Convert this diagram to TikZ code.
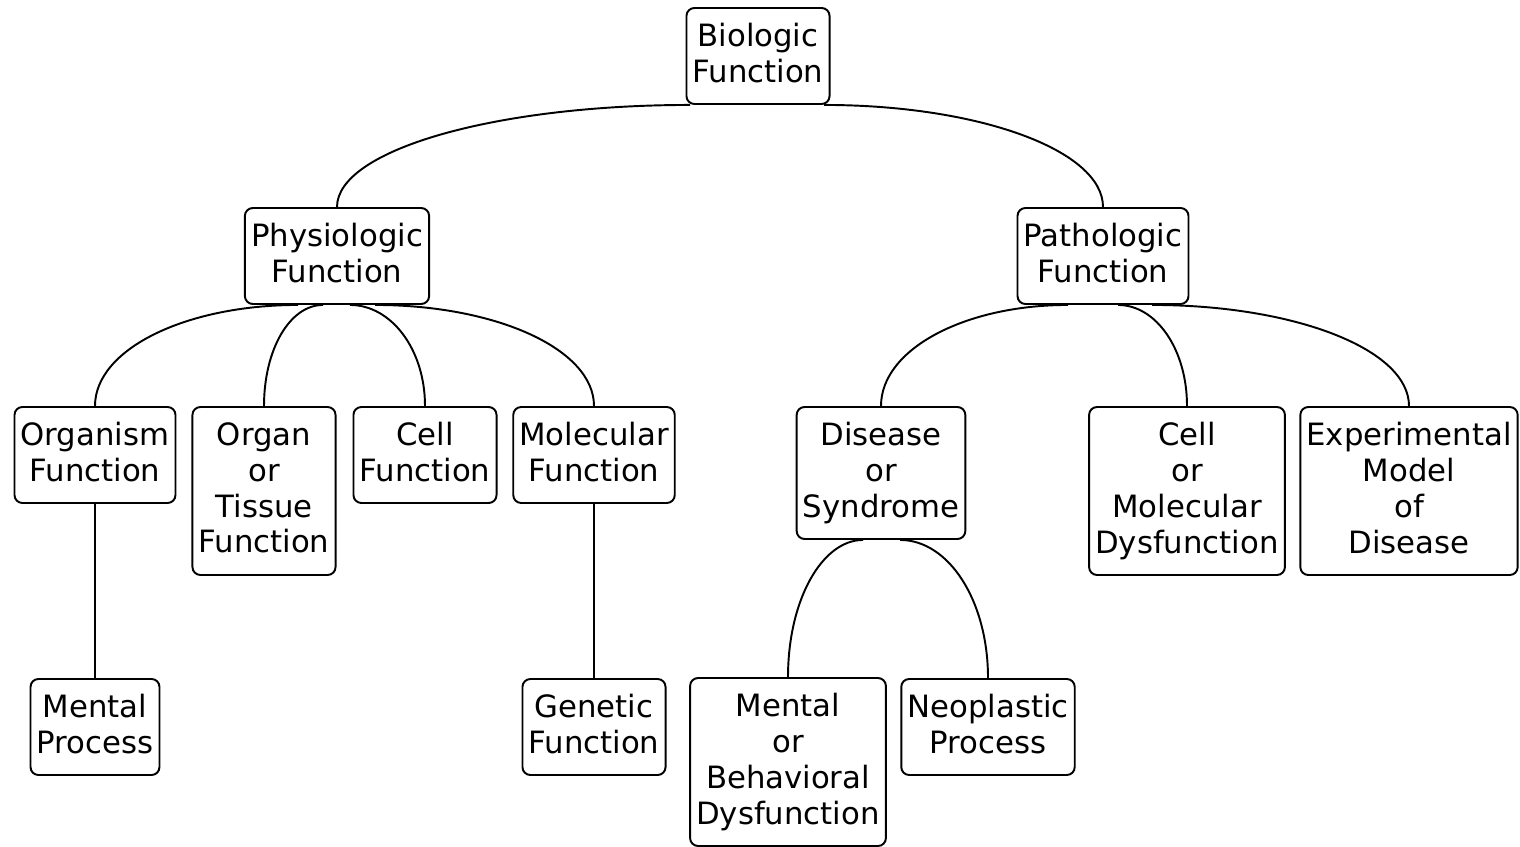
\documentclass[tikz,border=0pt]{standalone}
\usepackage{fontspec}
\setmainfont{DejaVu Sans}
\usepackage{tikz}

\tikzset{
  box/.style={draw, line width=1.1pt, rounded corners=4.5pt, align=center,
    inner xsep=3.5pt, inner ysep=0pt, font=\fontsize{17.5pt}{20.4pt}\selectfont,
    execute at end node={\vphantom{y}},
    minimum height={#1*0.72cm+0.48cm}},
  box/.default=2,
  link/.style={line width=1.1pt}
}

\begin{document}
\begin{tikzpicture}[x=0.02cm, y=-0.02cm]
    \useasboundingbox (0,0) rectangle (1520,847);

    % Top level
    \node[box] (bio) at (758,56) {Biologic\\Function};

    % Second level
    \node[box] (phys) at (337,256) {Physiologic\\Function};
    \node[box] (path) at (1103,256) {Pathologic\\Function};

    % Third level
    \node[box] (org) at (95,455) {Organism\\Function};
    \node[box=4] (organ) at (264,491) {Organ\\or\\Tissue\\Function};
    \node[box] (cell) at (425,455) {Cell\\Function};
    \node[box] (mol) at (594,455) {Molecular\\Function};
    \node[box=3] (dis) at (881,473) {Disease\\or\\Syndrome};
    \node[box=4] (cmd) at (1187,491) {Cell\\or\\Molecular\\Dysfunction};
    \node[box=4] (exper) at (1409,491) {Experimental\\Model\\of\\Disease};

    % Bottom level
    \node[box] (ment) at (95,727) {Mental\\Process};
    \node[box] (gen) at (594,727) {Genetic\\Function};
    \node[box=4] (mbd) at (788,762) {Mental\\or\\Behavioral\\Dysfunction};
    \node[box] (neo) at (988,727) {Neoplastic\\Process};

    % Curved links (quarter ellipses)
    \draw[link] (bio.south) ++(-68,0) .. controls +(-195,0) and +(0,-57) .. (phys.north);
    \draw[link] (bio.south) ++(66,0) .. controls +(154,0) and +(0,-57) .. (path.north);

    \draw[link] (phys.south) ++(-39,0) .. controls +(-112,0) and +(0,-57) .. (org.north);
    \draw[link] (phys.south) ++(-14,0) .. controls +(-33,0) and +(0,-57) .. (organ.north);
    \draw[link] (phys.south) ++(13,0) .. controls +(41,0) and +(0,-57) .. (cell.north);
    \draw[link] (phys.south) ++(38,0) .. controls +(121,0) and +(0,-57) .. (mol.north);

    \draw[link] (path.south) ++(-35,0) .. controls +(-103,0) and +(0,-57) .. (dis.north);
    \draw[link] (path.south) ++(15,0) .. controls +(38,0) and +(0,-57) .. (cmd.north);
    \draw[link] (path.south) ++(49,0) .. controls +(142,0) and +(0,-57) .. (exper.north);

    \draw[link] (dis.south) ++(-18,0) .. controls +(-41,0) and +(0,-77) .. (mbd.north);
    \draw[link] (dis.south) ++(19,0) .. controls +(49,0) and +(0,-77) .. (neo.north);

    % Straight links
    \draw[link] (org) -- (ment);
    \draw[link] (mol) -- (gen);
\end{tikzpicture}
\end{document}
